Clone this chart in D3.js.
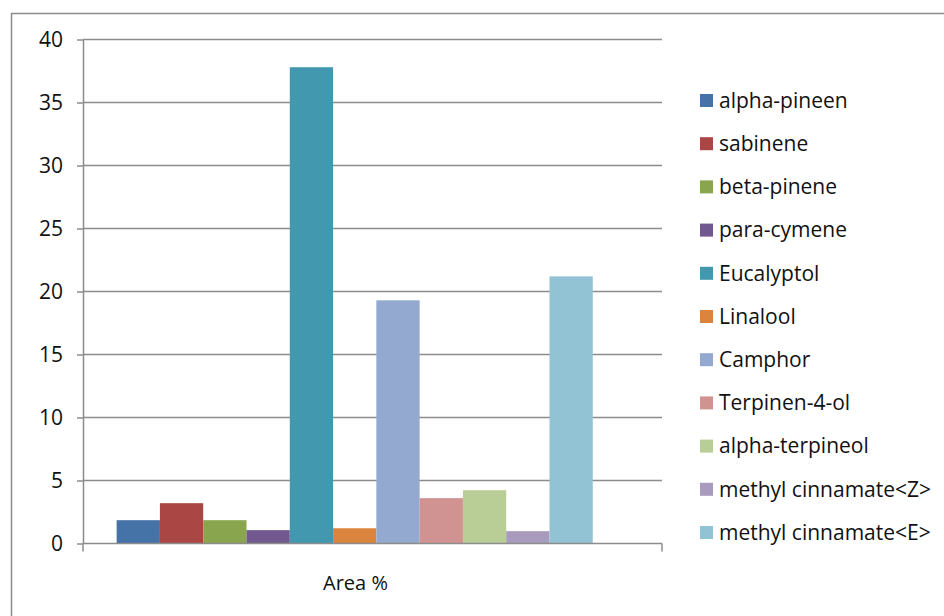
<!DOCTYPE html>
<html>
<head>
<meta charset="utf-8">
<script src="https://cdn.jsdelivr.net/npm/d3@7"></script>
<style>
  html, body { margin: 0; padding: 0; background: #fff; }
  svg { display: block; font-family: "Open Sans", "DejaVu Sans", sans-serif; }
</style>
</head>
<body>
<svg id="chart" width="944" height="616"></svg>
<script>
// Category (single group on the x axis)
const categories = ["Area %"];

// Compounds, one bar each
const compounds = [
  "alpha-pineen", "sabinene", "beta-pinene", "para-cymene", "Eucalyptol",
  "Linalool", "Camphor", "Terpinen-4-ol", "alpha-terpineol",
  "methyl cinnamate<Z>", "methyl cinnamate<E>"
];

// Area % per compound
const areaValues = [1.85, 3.2, 1.85, 1.06, 37.8, 1.21, 19.3, 3.6, 4.23, 0.98, 21.2];

// Y axis tick labels
const yTicks = [0, 5, 10, 15, 20, 25, 30, 35, 40];

const colors = [
  "#4572A7", "#AA4643", "#89A54E", "#71588F", "#4198AF", "#DB843D",
  "#93A9CF", "#D19392", "#B9CD96", "#A99BBD", "#92C3D4"
];

const svg = d3.select("#chart");
const plot = { left: 83, right: 662, top: 39.5, bottom: 543.5 };
const axisColor = "#8c8c8c";

// Chart frame
svg.append("rect")
  .attr("x", 11.5).attr("y", 13.5)
  .attr("width", 960).attr("height", 640)
  .attr("fill", "none").attr("stroke", axisColor).attr("stroke-width", 1.5);

const y = d3.scaleLinear().domain([0, 40]).range([plot.bottom, plot.top]);

const x0 = d3.scaleBand().domain(categories)
  .range([plot.left, plot.right]).paddingInner(0).paddingOuter(0.108).align(0.327);
const x1 = d3.scaleBand().domain(compounds)
  .range([0, x0.bandwidth()]).padding(0);
const color = d3.scaleOrdinal().domain(compounds).range(colors);

// Horizontal gridlines
svg.append("g")
  .selectAll("line")
  .data(yTicks.filter(d => d > 0))
  .join("line")
  .attr("x1", plot.left).attr("x2", plot.right)
  .attr("y1", d => y(d)).attr("y2", d => y(d))
  .attr("stroke", axisColor).attr("stroke-width", 1.5);

// Bars
const rows = compounds.map((c, i) => ({ category: categories[0], name: c, value: areaValues[i] }));
svg.append("g")
  .selectAll("rect")
  .data(rows)
  .join("rect")
  .attr("x", d => x0(d.category) + x1(d.name))
  .attr("y", d => y(d.value))
  .attr("width", x1.bandwidth())
  .attr("height", d => y(0) - y(d.value))
  .attr("fill", d => color(d.name));

// Y axis
const yAxis = svg.append("g")
  .attr("transform", `translate(${plot.left},0)`)
  .call(d3.axisLeft(y).tickValues(yTicks).tickSize(6).tickPadding(14).tickSizeOuter(0));
yAxis.select(".domain").attr("stroke", axisColor).attr("stroke-width", 1.5);
yAxis.selectAll(".tick line").attr("stroke", axisColor).attr("stroke-width", 1.5);
yAxis.selectAll(".tick text")
  .attr("font-size", 21).attr("font-family", "Open Sans, sans-serif")
  .attr("fill", "#111");

// X axis: baseline with boundary ticks at the category edges
const xAxisG = svg.append("g").attr("transform", `translate(0,${plot.bottom})`);
xAxisG.append("line")
  .attr("x1", plot.left).attr("x2", plot.right)
  .attr("stroke", axisColor).attr("stroke-width", 1.5);
xAxisG.selectAll("line.edge")
  .data([plot.left, plot.right])
  .join("line")
  .attr("class", "edge")
  .attr("x1", d => d).attr("x2", d => d)
  .attr("y1", 0).attr("y2", 8)
  .attr("stroke", axisColor).attr("stroke-width", 1.5);
xAxisG.selectAll("text")
  .data(categories)
  .join("text")
  .attr("x", (plot.left + plot.right) / 2 - 17)
  .attr("y", 39)
  .attr("dy", "0.35em")
  .attr("text-anchor", "middle")
  .attr("font-size", 20)
  .attr("fill", "#111")
  .text(d => d);

// Legend
const legend = svg.append("g").attr("transform", "translate(700,94)");
const item = legend.selectAll("g")
  .data(compounds)
  .join("g")
  .attr("transform", (d, i) => `translate(0,${i * 43.2})`);
item.append("rect")
  .attr("width", 13).attr("height", 13)
  .attr("fill", d => color(d));
item.append("text")
  .attr("x", 19).attr("y", 6.5)
  .attr("dy", "0.35em")
  .attr("font-size", 21)
  .attr("fill", "#111")
  .text(d => d);
</script>
</body>
</html>
